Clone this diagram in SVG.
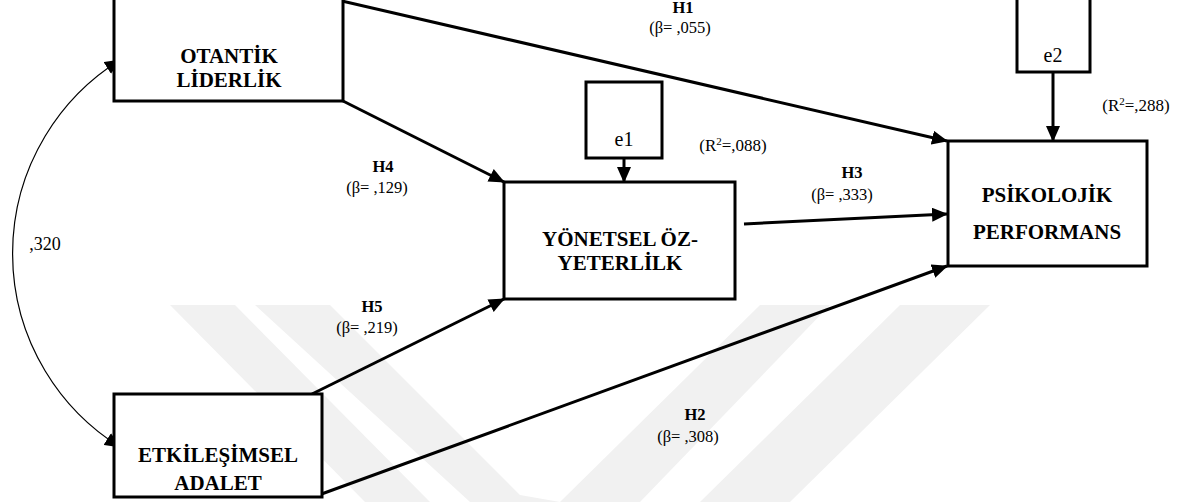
<svg xmlns="http://www.w3.org/2000/svg" width="1184" height="502" viewBox="0 0 1184 502">
<style>
.box{fill:#fff;stroke:#000;stroke-width:3}
text{font-family:'Liberation Serif','Times New Roman',serif;fill:#000;text-anchor:middle}
.bt{font-weight:bold;font-size:21px}
.hl{font-weight:bold;font-size:16.5px}
.lb{font-size:16.5px}
.lr{font-size:17px}
.cv{font-size:18px}
.sup{font-size:11px}
.et{font-size:20px}
.ln{stroke:#000;stroke-width:3;fill:none;marker-end:url(#ah)}
.wm{fill:#f1f1f1}
</style>
<defs>
<marker id="ah" markerUnits="userSpaceOnUse" markerWidth="16" markerHeight="14" refX="15" refY="7" orient="auto">
<path d="M0,0 L16,7 L0,14 Z" fill="#000"/>
</marker>
<marker id="ahs" markerUnits="userSpaceOnUse" markerWidth="16" markerHeight="14" refX="15" refY="7" orient="auto-start-reverse">
<path d="M0,0 L16,7 L0,14 Z" fill="#000"/>
</marker>
</defs>
<rect width="1184" height="502" fill="#fff"/>
<g id="watermark">
<polygon class="wm" points="170,305 235,305 430,502 365,502"/>
<polygon class="wm" points="255,305 330,305 520,495 560,502 470,502"/>
<polygon class="wm" points="560,502 760,305 830,305 640,502"/>
<polygon class="wm" points="700,502 900,305 990,305 790,502"/>
</g>
<g id="connectors">
<line class="ln" x1="342" y1="1" x2="947" y2="141"/>
<line class="ln" x1="343" y1="101" x2="504" y2="182"/>
<line class="ln" x1="624" y1="158" x2="624" y2="182"/>
<line class="ln" x1="1053" y1="72" x2="1053" y2="141"/>
<line class="ln" x1="744" y1="224" x2="947" y2="214"/>
<line class="ln" x1="312" y1="394" x2="504" y2="299"/>
<line class="ln" x1="316" y1="496" x2="947" y2="266"/>
<path d="M120,60 A228,228 0 0 0 120,447" fill="none" stroke="#000" stroke-width="1.2" marker-start="url(#ahs)" marker-end="url(#ah)"/>
</g>
<g id="otantik">
<rect class="box" x="114" y="-2" width="229" height="103"/>
<text class="bt" x="229" y="63">OTANTİK</text>
<text class="bt" x="229" y="87">LİDERLİK</text>
</g>
<g id="etkilesimsel">
<rect class="box" x="114" y="394" width="208" height="103"/>
<text class="bt" x="218" y="462">ETKİLEŞİMSEL</text>
<text class="bt" x="218" y="490">ADALET</text>
</g>
<g id="yonetsel">
<rect class="box" x="504" y="182" width="231" height="117"/>
<text class="bt" x="620" y="246">YÖNETSEL ÖZ-</text>
<text class="bt" x="620" y="270">YETERLİLK</text>
</g>
<g id="psikolojik">
<rect class="box" x="948" y="141" width="199" height="125"/>
<text class="bt" x="1047" y="202">PSİKOLOJİK</text>
<text class="bt" x="1047" y="239">PERFORMANS</text>
</g>
<g id="e1">
<rect class="box" x="586" y="82" width="76" height="76"/>
<text class="et" x="624" y="146">e1</text>
</g>
<g id="e2">
<rect class="box" x="1017" y="-2" width="73" height="74"/>
<text class="et" x="1053" y="62">e2</text>
</g>
<g id="labels">
<text class="hl" x="683" y="13">H1</text>
<text class="lb" x="680" y="33">(β= ,055)</text>
<text class="hl" x="383" y="172">H4</text>
<text class="lb" x="377" y="193">(β= ,129)</text>
<text class="hl" x="852" y="178">H3</text>
<text class="lb" x="842" y="200">(β= ,333)</text>
<text class="hl" x="372" y="312">H5</text>
<text class="lb" x="367" y="333">(β= ,219)</text>
<text class="hl" x="695" y="420">H2</text>
<text class="lb" x="688" y="442">(β= ,308)</text>
<text class="cv" x="45" y="250">,320</text>
<text class="lr" x="733" y="151">(R<tspan class="sup" dy="-6">2</tspan><tspan dy="6">=,088)</tspan></text>
<text class="lr" x="1136" y="111">(R<tspan class="sup" dy="-6">2</tspan><tspan dy="6">=,288)</tspan></text>
</g>
</svg>
